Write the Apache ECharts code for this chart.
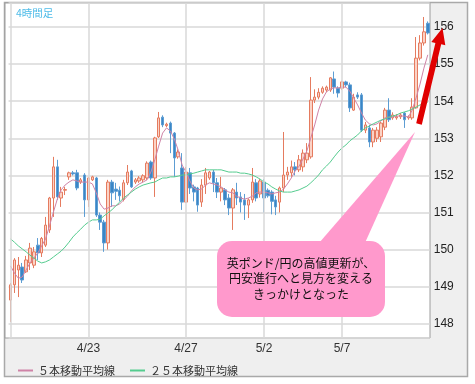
<!DOCTYPE html>
<html><head><meta charset="utf-8">
<script src="https://cdn.jsdelivr.net/npm/echarts@6/dist/echarts.min.js"></script>
<style>html,body{margin:0;padding:0;background:#fff}#c{width:475px;height:384px}</style>
</head><body><div id="c"></div>
<script>
// 4-hour candles: open / close / low / high
const opens = [
148.64,149.05,149.45,149.53,149.4,149.64,149.58,150.12,149.91,150.12,
150.53,151.39,152.23,151.39,151.6,151.96,152.07,152.07,151.82,152.01,
151.34,151.88,151.93,150.93,150.74,150.18,151.82,151.63,151.6,151.35,
151.8,152.12,151.82,151.85,151.88,151.93,152.36,151.93,153.04,153.57,
153.34,153.41,153.14,152.5,152.2,151.28,152.07,151.69,151.66,151.28,
151.74,151.93,152.09,151.8,151.55,151.61,151.39,151.12,151.55,151.42,
151.34,151.2,151.34,151.8,151.5,151.82,151.6,151.55,151.34,151.28,
151.66,152.01,152.07,152.23,152.15,152.23,152.42,152.5,154.03,154.11,
154.24,154.3,154.3,154.6,154.35,154.35,154.52,154.44,153.76,154.17,
154.17,153.22,153.28,152.9,153.0,153.04,153.3,153.76,153.55,153.55,
153.58,153.68,153.55,153.55,153.82,155.16,155.57,156.1];
const closes = [
149.05,149.72,149.58,149.18,149.72,150.04,149.94,149.91,150.3,150.66,
151.39,152.23,151.42,151.55,151.62,152.07,152.04,151.66,151.88,151.34,
151.93,151.96,150.93,150.74,150.18,151.82,151.53,151.57,151.45,151.8,
152.09,151.69,151.88,151.93,151.99,152.33,151.93,153.01,153.55,153.36,
153.38,153.14,152.47,152.63,151.28,152.09,151.66,151.55,151.2,151.74,
152.07,152.09,151.8,151.55,151.66,151.34,151.12,151.61,151.39,151.28,
151.2,151.34,151.82,151.39,151.85,151.39,151.45,151.3,151.15,151.66,
152.01,152.09,152.23,152.15,152.42,152.6,152.6,154.03,154.11,154.24,
154.35,154.38,154.63,154.38,154.22,154.52,154.44,153.82,154.11,154.11,
153.22,153.36,152.9,153.22,153.22,153.41,153.76,153.5,153.63,153.58,
153.63,153.5,153.58,153.84,155.16,155.57,155.87,155.84];
const lows = [
148.05,148.83,148.72,149.1,149.37,149.45,149.5,149.72,149.8,150.07,
150.45,150.88,151.34,151.15,151.47,151.88,152.0,151.6,151.77,150.88,
151.15,151.85,150.88,150.53,149.94,150.0,151.15,151.34,151.3,151.3,
151.74,151.66,151.77,151.8,151.82,151.88,151.88,151.42,153.01,153.3,
153.3,152.6,151.96,152.45,151.07,151.26,151.5,151.3,151.02,151.15,
151.5,151.88,151.55,151.39,151.3,151.2,150.93,150.53,151.2,151.0,
150.8,150.85,151.26,151.3,151.4,151.0,151.4,150.95,150.93,151.0,
151.55,151.88,151.96,152.0,152.09,152.1,152.33,152.45,153.95,154.05,
154.2,154.25,154.25,154.2,154.1,154.3,154.38,153.71,153.74,154.06,
153.17,153.14,152.76,152.76,152.9,152.9,153.22,153.44,153.5,153.5,
153.52,153.28,153.5,153.5,153.8,155.1,155.5,155.8];
const highs = [
149.1,149.77,149.8,149.64,149.83,150.18,150.07,150.31,150.34,150.88,
151.42,152.5,152.42,151.69,151.69,152.1,152.12,152.15,151.93,152.06,
151.96,151.99,151.96,151.0,150.8,151.88,151.88,151.8,151.7,151.88,
152.28,152.15,151.93,151.98,152.03,152.38,152.4,153.04,153.71,153.62,
153.42,153.45,153.17,152.7,152.6,152.23,152.2,151.75,151.69,151.9,
152.2,152.12,152.15,151.93,151.96,151.66,151.5,151.66,151.8,151.55,
151.5,151.38,152.2,151.9,151.9,151.9,151.65,151.6,151.45,151.7,
153.17,152.23,152.4,152.36,152.55,152.7,152.87,154.65,154.32,154.35,
154.4,154.42,154.65,154.8,154.4,154.55,154.55,154.5,154.2,154.24,
154.22,153.44,153.36,153.28,153.3,153.44,153.82,154.08,153.7,153.65,
153.68,153.71,153.62,154.08,155.73,155.78,156.27,156.15];
// moving averages
const ma5 = [
149.56,149.37,149.23,149.26,149.45,149.64,149.77,149.91,150.1,150.29,
150.64,151.01,151.36,151.61,151.74,151.82,151.88,151.85,151.82,151.82,
151.82,151.77,151.53,151.23,151.09,151.12,151.18,151.18,151.23,151.34,
151.44,151.58,151.69,151.77,151.82,151.88,152.09,152.42,152.79,153.14,
153.28,153.2,152.98,152.68,152.28,152.09,151.85,151.66,151.61,151.63,
151.74,151.8,151.77,151.74,151.69,151.61,151.55,151.53,151.44,151.39,
151.36,151.39,151.44,151.53,151.55,151.55,151.53,151.5,151.53,151.55,
151.63,151.77,151.93,152.12,152.25,152.44,152.66,153.01,153.36,153.76,
154.06,154.25,154.33,154.36,154.36,154.38,154.38,154.27,154.09,153.9,
153.68,153.49,153.39,153.36,153.39,153.47,153.55,153.57,153.57,153.6,
153.6,153.6,153.57,153.76,154.09,154.46,154.89,155.25];
const ma25 = [
150.29,150.2,150.1,150.02,149.94,149.85,149.77,149.69,149.64,149.67,
149.72,149.8,149.88,149.96,150.07,150.2,150.34,150.45,150.55,150.66,
150.74,150.8,150.8,150.82,150.91,150.99,151.07,151.18,151.28,151.39,
151.47,151.55,151.63,151.69,151.74,151.77,151.8,151.82,151.88,151.93,
151.93,151.96,151.96,151.98,152.01,152.01,152.04,152.06,152.09,152.12,
152.15,152.15,152.15,152.15,152.15,152.12,152.09,152.09,152.09,152.06,
152.06,152.04,152.01,151.96,151.9,151.82,151.77,151.69,151.63,151.58,
151.55,151.55,151.55,151.58,151.61,151.66,151.71,151.8,151.9,152.01,
152.15,152.25,152.36,152.5,152.63,152.74,152.82,152.93,153.01,153.09,
153.2,153.28,153.33,153.39,153.44,153.49,153.52,153.57,153.6,153.63,
153.68,153.71,153.74,153.79,153.84,153.9,153.92,153.98];
const tickIndex = [0, 20, 45, 65, 85];
const tickLabels = ['', '4/23', '4/27', '5/2', '5/7'];
const seriesNames = ['５本移動平均線', '２５本移動平均線'];
const titleText = '4時間足';
const noteLines = ['英ポンド/円の高値更新が、', '円安進行へと見方を変える', 'きっかけとなった'];

const chart = echarts.init(document.getElementById('c'), null, {renderer: 'canvas'});
const cats = opens.map((_, i) => String(i));
const candles = opens.map((o, i) => [o, closes[i], lows[i], highs[i]]);
const labelOf = i => { const k = tickIndex.indexOf(i); return k < 0 ? '' : tickLabels[k]; };
const font = "'Liberation Sans','Noto Sans CJK JP',sans-serif";
const jp = "'Noto Sans CJK JP',sans-serif";
const pink = '#ff99cc';
const arrow = [[416.2,123.3],[435.4,43],[431.3,42],[442.5,28],[445.3,45.3],[441.2,44.3],[421.8,124.7]];

const graphic = [
  {type:'rect', z:-10, silent:true, shape:{x:4.5,y:2.5,width:463,height:374}, style:{fill:'#efefef', stroke:'#a9a9a9', lineWidth:1.5}},
  {type:'rect', z:-9, silent:true, shape:{x:5,y:3,width:425,height:335}, style:{fill:'#ffffff', stroke:'#9c9c9c', lineWidth:1}},
  {type:'text', z:100, x:16, y:13, style:{text:titleText, fill:'#4dbbe8', font:"10.5px " + jp, verticalAlign:'middle', textVerticalAlign:'middle'}},
  {type:'polygon', z:100, shape:{points:[[300,265],[355,265],[415,132]]}, style:{fill:pink}},
  {type:'rect', z:100, shape:{x:217,y:241,width:168,height:76,r:15}, style:{fill:pink}},
  {type:'polygon', z:101, shape:{points:arrow}, style:{fill:'#e00000'}}
];
noteLines.forEach((t, k) => graphic.push({type:'text', z:102, x:301, y:263 + k*15.5,
  style:{text:t, fill:'#111', font:"12px " + jp, align:'center', verticalAlign:'middle', textAlign:'center', textVerticalAlign:'middle'}}));

const option = {
  animation: false,
  backgroundColor: '#fff',
  grid: {left: 8.55, right: 45.25, top: 3, bottom: 46},
  xAxis: {type:'category', data: cats, boundaryGap: true,
    axisLine:{show:false}, axisTick:{show:false}, splitLine:{show:false},
    axisLabel:{interval: (i) => tickIndex.includes(i), formatter: (v) => labelOf(+v),
      color:'#333', fontSize:12, fontFamily:font, margin:5}},
  yAxis: {type:'value', position:'right', min:147.617, max:156.647, splitNumber:9,
    axisLine:{show:false}, axisTick:{show:false},
    splitLine:{lineStyle:{color:'#d9d9d9', width:1.5}},
    axisLabel:{formatter: v => Math.abs(v - Math.round(v)) < 1e-6 ? String(Math.round(v)) : '',
      color:'#222', fontSize:12, fontFamily:font, margin:4}},
  legend: {data: seriesNames, left: 13, top: 360, icon: 'rect', itemWidth: 15, itemHeight: 2, itemGap: 15,
    textStyle: {fontSize: 11, color: '#333', fontFamily: jp}},
  graphic: graphic,
  series: [
    {type:'line', name:'vgrid', data:[], silent:true, z:1,
      markLine:{symbol:'none', silent:true, label:{show:false}, animation:false,
        lineStyle:{color:'#d9d9d9', width:1.5, type:'solid'},
        data: tickIndex.map(i => ({xAxis: i}))}},
    {type:'candlestick', name:'candle', data: candles, barWidth: 3, z:2,
      itemStyle:{color:'#fbd3c6', color0:'#3a86c6', borderColor:'#e57b5f', borderColor0:'#5d9dd3', borderWidth:1}},
    {type:'line', name:seriesNames[0], data: ma5, symbol:'none', z:3,
      lineStyle:{color:'#cf83a7', width:1}, itemStyle:{color:'#cf83a7'}},
    {type:'line', name:seriesNames[1], data: ma25, symbol:'none', z:3,
      lineStyle:{color:'#55cc8f', width:1}, itemStyle:{color:'#55cc8f'}}
  ]
};
chart.setOption(option);
</script>
</body></html>
